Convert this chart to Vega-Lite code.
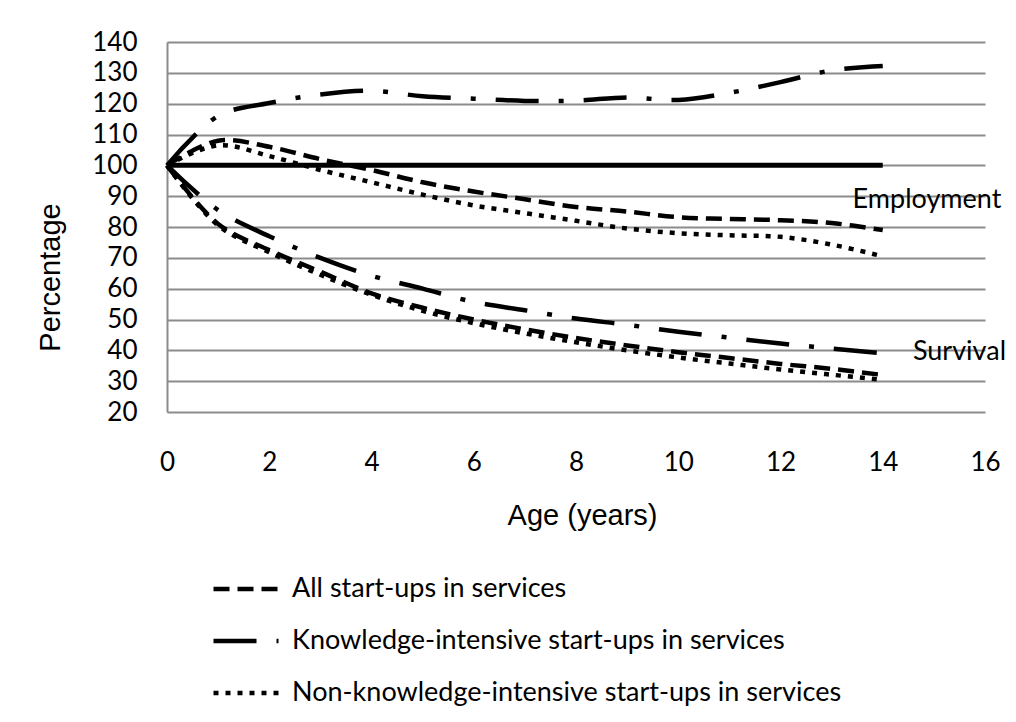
{
  "$schema": "https://vega.github.io/schema/vega-lite/v6.json",
  "width": 818,
  "height": 370,
  "autosize": {"type": "none"},
  "padding": {"left": 167, "top": 42, "right": 31, "bottom": 310},
  "background": "white",
  "config": {"view": {"stroke": null}, "font": "Lato"},
  "encoding": {
    "x": {
      "field": "age", "type": "quantitative",
      "scale": {"domain": [0, 16], "nice": false},
      "axis": {
        "values": [0, 2, 4, 6, 8, 10, 12, 14, 16],
        "title": "Age (years)", "titleFont": "Liberation Sans", "titleFontSize": 29, "titleFontWeight": "normal", "titleColor": "black",
        "titleX": 415, "titleY": 103, "titleBaseline": "middle", "titleAlign": "center",
        "labelFont": "Lato", "labelFontSize": 26, "labelColor": "black", "labelBaseline": "middle", "labelPadding": 50,
        "labelFlush": false, "labelOverlap": false,
        "ticks": false, "domain": false, "grid": false
      }
    },
    "y": {
      "field": "value", "type": "quantitative",
      "scale": {"domain": [20, 140], "nice": false, "zero": false},
      "axis": {
        "values": [20, 30, 40, 50, 60, 70, 80, 90, 100, 110, 120, 130, 140],
        "title": "Percentage", "titleFont": "Liberation Sans", "titleFontSize": 29, "titleFontWeight": "normal", "titleColor": "black",
        "titleX": -117, "titleY": 235, "titleBaseline": "middle", "titleAlign": "center", "titleAngle": -90,
        "labelFont": "Lato", "labelFontSize": 26, "labelColor": "black", "labelPadding": 30, "labelOverlap": false,
        "ticks": false, "domain": true, "domainColor": "#8c8c8c", "domainWidth": 2,
        "grid": true, "gridColor": "#8c8c8c", "gridWidth": 2
      }
    }
  },
  "layer": [
    {
      "data": {"values": [
        {"measure": "Employment", "age": 0, "All start-ups in services": 100, "Knowledge-intensive start-ups in services": 100, "Non-knowledge-intensive start-ups in services": 100},
        {"measure": "Employment", "age": 1, "All start-ups in services": 108, "Knowledge-intensive start-ups in services": 116, "Non-knowledge-intensive start-ups in services": 106.5},
        {"measure": "Employment", "age": 2, "All start-ups in services": 106, "Knowledge-intensive start-ups in services": 120.2, "Non-knowledge-intensive start-ups in services": 103},
        {"measure": "Employment", "age": 3, "All start-ups in services": 102, "Knowledge-intensive start-ups in services": 123, "Non-knowledge-intensive start-ups in services": 98.5},
        {"measure": "Employment", "age": 4, "All start-ups in services": 98.5, "Knowledge-intensive start-ups in services": 124.2, "Non-knowledge-intensive start-ups in services": 94.5},
        {"measure": "Employment", "age": 5, "All start-ups in services": 94.5, "Knowledge-intensive start-ups in services": 122.4, "Non-knowledge-intensive start-ups in services": 90.5},
        {"measure": "Employment", "age": 6, "All start-ups in services": 91.5, "Knowledge-intensive start-ups in services": 121.6, "Non-knowledge-intensive start-ups in services": 87},
        {"measure": "Employment", "age": 7, "All start-ups in services": 89, "Knowledge-intensive start-ups in services": 120.9, "Non-knowledge-intensive start-ups in services": 84.5},
        {"measure": "Employment", "age": 8, "All start-ups in services": 86.5, "Knowledge-intensive start-ups in services": 121, "Non-knowledge-intensive start-ups in services": 82},
        {"measure": "Employment", "age": 9, "All start-ups in services": 85, "Knowledge-intensive start-ups in services": 122, "Non-knowledge-intensive start-ups in services": 79.5},
        {"measure": "Employment", "age": 10, "All start-ups in services": 83.2, "Knowledge-intensive start-ups in services": 121.2, "Non-knowledge-intensive start-ups in services": 78},
        {"measure": "Employment", "age": 11, "All start-ups in services": 82.6, "Knowledge-intensive start-ups in services": 123.5, "Non-knowledge-intensive start-ups in services": 77.3},
        {"measure": "Employment", "age": 12, "All start-ups in services": 82.2, "Knowledge-intensive start-ups in services": 127, "Non-knowledge-intensive start-ups in services": 76.8},
        {"measure": "Employment", "age": 13, "All start-ups in services": 81.3, "Knowledge-intensive start-ups in services": 130.8, "Non-knowledge-intensive start-ups in services": 74.3},
        {"measure": "Employment", "age": 14, "All start-ups in services": 79, "Knowledge-intensive start-ups in services": 132.2, "Non-knowledge-intensive start-ups in services": 70.5},
        {"measure": "Survival", "age": 0, "All start-ups in services": 100, "Knowledge-intensive start-ups in services": 100, "Non-knowledge-intensive start-ups in services": 100},
        {"measure": "Survival", "age": 1, "All start-ups in services": 81, "Knowledge-intensive start-ups in services": 85.5, "Non-knowledge-intensive start-ups in services": 80.5},
        {"measure": "Survival", "age": 2, "All start-ups in services": 72.5, "Knowledge-intensive start-ups in services": 77, "Non-knowledge-intensive start-ups in services": 71.8},
        {"measure": "Survival", "age": 3, "All start-ups in services": 65.5, "Knowledge-intensive start-ups in services": 70, "Non-knowledge-intensive start-ups in services": 64.5},
        {"measure": "Survival", "age": 4, "All start-ups in services": 58.5, "Knowledge-intensive start-ups in services": 64.2, "Non-knowledge-intensive start-ups in services": 58},
        {"measure": "Survival", "age": 5, "All start-ups in services": 53.8, "Knowledge-intensive start-ups in services": 60, "Non-knowledge-intensive start-ups in services": 52.8},
        {"measure": "Survival", "age": 6, "All start-ups in services": 50, "Knowledge-intensive start-ups in services": 55.7, "Non-knowledge-intensive start-ups in services": 48.8},
        {"measure": "Survival", "age": 7, "All start-ups in services": 46.8, "Knowledge-intensive start-ups in services": 53, "Non-knowledge-intensive start-ups in services": 45.5},
        {"measure": "Survival", "age": 8, "All start-ups in services": 44, "Knowledge-intensive start-ups in services": 50.3, "Non-knowledge-intensive start-ups in services": 42.6},
        {"measure": "Survival", "age": 9, "All start-ups in services": 41.6, "Knowledge-intensive start-ups in services": 48.3, "Non-knowledge-intensive start-ups in services": 40},
        {"measure": "Survival", "age": 10, "All start-ups in services": 39.4, "Knowledge-intensive start-ups in services": 46, "Non-knowledge-intensive start-ups in services": 37.7},
        {"measure": "Survival", "age": 11, "All start-ups in services": 37.5, "Knowledge-intensive start-ups in services": 44.1, "Non-knowledge-intensive start-ups in services": 35.7},
        {"measure": "Survival", "age": 12, "All start-ups in services": 35.6, "Knowledge-intensive start-ups in services": 42.2, "Non-knowledge-intensive start-ups in services": 33.8},
        {"measure": "Survival", "age": 13, "All start-ups in services": 34, "Knowledge-intensive start-ups in services": 40.6, "Non-knowledge-intensive start-ups in services": 32.1},
        {"measure": "Survival", "age": 14, "All start-ups in services": 32, "Knowledge-intensive start-ups in services": 39, "Non-knowledge-intensive start-ups in services": 30.4}
      ]},
      "transform": [
        {"fold": ["All start-ups in services", "Knowledge-intensive start-ups in services", "Non-knowledge-intensive start-ups in services"], "as": ["series", "value"]}
      ],
      "mark": {"type": "line", "interpolate": "catmull-rom", "strokeWidth": 4.5, "color": "black"},
      "encoding": {
        "detail": {"field": "measure", "type": "nominal"},
        "strokeDash": {
          "field": "series", "type": "nominal",
          "scale": {
            "domain": ["All start-ups in services", "Knowledge-intensive start-ups in services", "Non-knowledge-intensive start-ups in services"],
            "range": [[16, 8], [43, 20, 5, 20], [5, 7]]
          },
          "legend": {
            "title": null, "orient": "none", "legendX": 44, "legendY": 512, "direction": "vertical",
            "symbolType": "stroke", "symbolSize": 4225, "symbolStrokeWidth": 4.5, "symbolStrokeColor": "black",
            "labelFont": "Lato", "labelFontSize": 27, "labelColor": "black", "labelOffset": 11, "labelLimit": 700,
            "rowPadding": 4, "padding": 0
          }
        }
      }
    },
    {
      "data": {"values": [{"age": 0, "value": 100}, {"age": 14, "value": 100}]},
      "mark": {"type": "line", "strokeWidth": 5, "color": "black"}
    },
    {
      "data": {"values": [
        {"age": 13.41, "value": 88.75, "label": "Employment"},
        {"age": 14.59, "value": 39.55, "label": "Survival"}
      ]},
      "mark": {"type": "text", "align": "left", "baseline": "middle", "font": "Lato", "fontSize": 27, "color": "black"},
      "encoding": {"text": {"field": "label", "type": "nominal"}}
    }
  ]
}
